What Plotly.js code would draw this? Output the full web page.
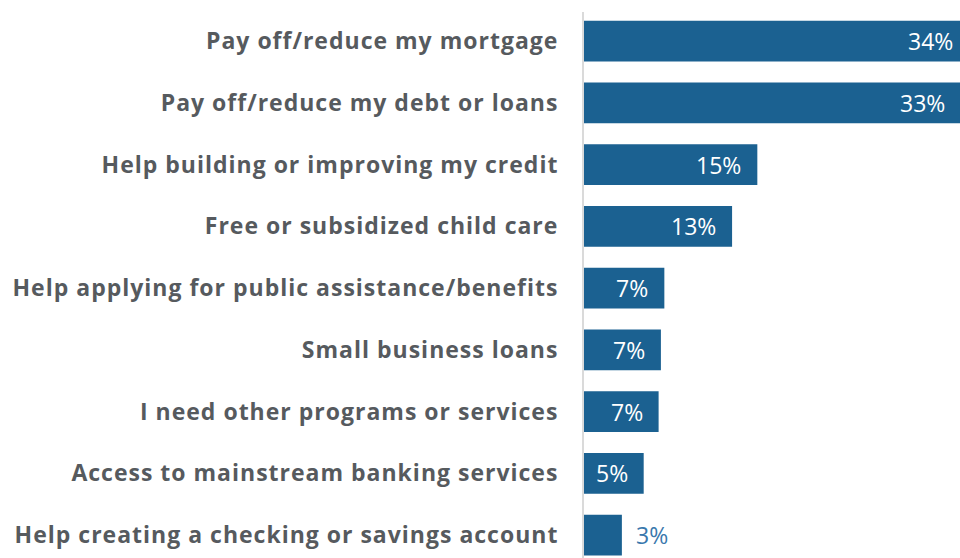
<!DOCTYPE html>
<html>
<head>
<meta charset="utf-8">
<script src="https://cdn.plot.ly/plotly-3.0.1.min.js"></script>
<style>
html,body{margin:0;padding:0;background:#fff;overflow:hidden;}
#wrap{width:960px;height:558px;overflow:hidden;}
#chart{width:976px;height:558px;}
#chart .ytick text{letter-spacing:1px;}
</style>
</head>
<body>
<div id="wrap"><div id="chart"></div></div>
<script>
const categories = [
  "Pay off/reduce my mortgage",
  "Pay off/reduce my debt or loans",
  "Help building or improving my credit",
  "Free or subsidized child care",
  "Help applying for public assistance/benefits",
  "Small business loans",
  "I need other programs or services",
  "Access to mainstream banking services",
  "Help creating a checking or savings account"
];
const values = [33.5, 32.8, 15.1, 12.9, 7.0, 6.7, 6.5, 5.2, 3.3];
const valueLabels = ["34%", "33%", "15%", "13%", "7%", "7%", "7%", "5%", "3%"];
const labelInside = [true, true, true, true, true, true, true, true, false];

const barColor = "#1b6191";

const bars = {
  type: "bar",
  orientation: "h",
  x: values,
  y: categories,
  marker: { color: barColor },
  hoverinfo: "skip"
};

const annotations = values.map((v, i) => ({
  x: v,
  y: categories[i],
  xref: "x",
  yref: "y",
  text: valueLabels[i],
  showarrow: false,
  xanchor: labelInside[i] ? "right" : "left",
  yanchor: "middle",
  xshift: labelInside[i] ? -14 : 12,
  yshift: 0,
  font: { family: "Open Sans", size: 23, color: labelInside[i] ? "#ffffff" : "#3a78ad" }
}));

const layout = {
  width: 976,
  height: 558,
  margin: { l: 584, r: 0, t: 12, b: 0 },
  paper_bgcolor: "#ffffff",
  plot_bgcolor: "#ffffff",
  showlegend: false,
  bargap: 0.34,
  annotations: annotations,
  xaxis: {
    range: [0, 34.15],
    showgrid: false,
    zeroline: false,
    showline: false,
    showticklabels: false,
    fixedrange: true
  },
  yaxis: {
    type: "category",
    range: [8.372, -0.47],
    showgrid: false,
    zeroline: false,
    showline: true,
    linecolor: "#dadada",
    linewidth: 2,
    ticks: "outside",
    ticklen: 19,
    tickcolor: "rgba(0,0,0,0)",
    tickfont: { family: "Open Sans", size: 23, color: "#565a5e", weight: 700 },
    fixedrange: true
  }
};

Plotly.newPlot("chart", [bars], layout, { displayModeBar: false, staticPlot: true });
</script>
</body>
</html>
